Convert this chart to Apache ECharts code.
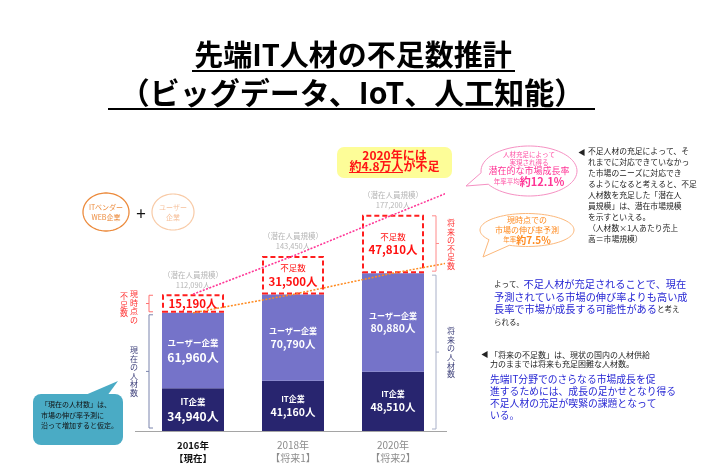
<!DOCTYPE html>
<html><head><meta charset="utf-8">
<script src="https://cdn.jsdelivr.net/npm/echarts@6/dist/echarts.min.js"></script>
<style>html,body{margin:0;padding:0;background:#fff}#c{width:703px;height:471px}</style>
</head><body><div id="c"></div>
<script>
// ---- data ----
const years = ['2016年', '2018年', '2020年'];
const yearTags = ['【現在】', '【将来1】', '【将来2】'];
const itCompanies = [34940, 41160, 48510];
const userCompanies = [61960, 70790, 80880];
const shortage = [15190, 31500, 47810];
const potentialScale = [112090, 143450, 177200];
// growth trend lines (12.1% / 7.5%), extended past 2020 toward the callouts
const trendX = [0, 1, 2, 2.9];
const potentialTrend = [112090, 143450, 177200, 207000];
const currentTrend = [96900, 111950, 129390, 143000];

const F = '"Noto Sans CJK JP","Noto Sans CJK SC",sans-serif';
const fmt = v => v.toLocaleString('en-US');
const currentTotal = itCompanies.map((v, i) => v + userCompanies[i]);

const chart = echarts.init(document.getElementById('c'));
const W = '#ffffff';
const NB = { textBorderWidth: 0, textBorderColor: 'transparent', textShadowBlur: 0, textShadowColor: 'transparent', fontFamily: F };
const R = o => Object.assign({}, NB, o);
const whiteRich = {
  n0: R({ fontSize: 8.5, fontWeight: 'bold', color: W, lineHeight: 13 }),
  v0: R({ fontSize: 12, fontWeight: 'bold', color: W, lineHeight: 15 }),
  n: R({ fontSize: 8, fontWeight: 'bold', color: W, lineHeight: 12 }),
  v: R({ fontSize: 10.5, fontWeight: 'bold', color: W, lineHeight: 14 })
};
chart.setOption({
  animation: false,
  textStyle: { fontFamily: F },
  grid: { left: 143, width: 300, top: 187, height: 244 },
  xAxis: [{
    type: 'category', data: years,
    axisLine: { show: false },
    axisTick: { show: false },
    axisLabel: {
      margin: 8,
      formatter: (v, i) => i === 0 ? `{b|${v}}\n{b|${yearTags[i]}}` : `{g|${v}}\n{g|${yearTags[i]}}`,
      rich: {
        b: { fontSize: 9.5, fontWeight: 'bold', color: '#111', lineHeight: 13, fontFamily: F },
        g: { fontSize: 10, color: '#8c8c8c', lineHeight: 13, fontFamily: F }
      }
    }
  }, { type: 'value', min: -0.5, max: 2.5, show: false }],
  yAxis: { type: 'value', min: 0, max: 200000, show: false },
  series: [
    {
      type: 'bar', name: 'IT企業', stack: 's', data: itCompanies, barWidth: 62,
      itemStyle: { color: '#28256f' },
      label: Object.assign({
        show: true, position: 'inside',
        formatter: p => p.dataIndex === 0 ? `{n0|IT企業}\n{v0|${fmt(p.value)}人}` : `{n|IT企業}\n{v|${fmt(p.value)}人}`,
        rich: whiteRich
      }, NB)
    },
    {
      type: 'bar', name: 'ユーザー企業', stack: 's', data: userCompanies, barWidth: 62,
      itemStyle: { color: '#7573c9' },
      label: Object.assign({
        show: true, position: 'inside',
        formatter: p => p.dataIndex === 0 ? `{n0|ユーザー企業}\n{v0|${fmt(p.value)}人}` : `{n|ユーザー企業}\n{v|${fmt(p.value)}人}`,
        rich: whiteRich
      }, NB)
    },
    {
      type: 'bar', name: '不足数', stack: 's', data: shortage, barWidth: 62,
      itemStyle: { color: '#ffffff', borderColor: '#ff1f1f', borderWidth: 2, borderType: [5, 3] },
      label: Object.assign({
        show: true, position: 'inside',
        formatter: p => p.dataIndex === 0 ? `{v0|${fmt(p.value)}人}` : `{n|不足数}\n{v|${fmt(p.value)}人}`,
        rich: {
          v0: R({ fontSize: 11.5, fontWeight: 'bold', color: '#ff1010', lineHeight: 15 }),
          n: R({ fontSize: 8.5, color: '#ff1010', lineHeight: 12 }),
          v: R({ fontSize: 11.5, fontWeight: 'bold', color: '#ff1010', lineHeight: 15 })
        }
      }, NB)
    },
    {
      type: 'scatter', data: potentialScale, symbolSize: 1, silent: true,
      itemStyle: { color: 'rgba(0,0,0,0)' },
      label: Object.assign({
        show: true, position: 'top', distance: 4,
        formatter: p => `（潜在人員規模）\n${fmt(p.value)}人`,
        color: '#a3a3a3', fontSize: 7.5, lineHeight: 10
      }, NB)
    },
    {
      type: 'line', xAxisIndex: 1, data: trendX.map((x, i) => [x, potentialTrend[i]]),
      symbol: 'none', clip: false, silent: true, z: 5,
      lineStyle: { color: '#ff3596', width: 1.5, type: [2, 1.5] }
    },
    {
      type: 'line', xAxisIndex: 1, data: trendX.map((x, i) => [x, currentTrend[i]]),
      symbol: 'none', clip: false, silent: true, z: 5,
      lineStyle: { color: '#ff8a1f', width: 1.5, type: [2, 1.5] }
    }
  ]
});

// ---- annotations ----
function txt(x, y, text, o) {
  const s = Object.assign({ text: text, fontFamily: F, fill: '#222', fontSize: 8 }, o || {});
  s.align = s.textAlign = s.align || 'left';
  s.verticalAlign = s.textVerticalAlign = s.verticalAlign || 'top';
  return { type: 'text', x: x, y: y, z: 20, style: s };
}
function bubblePts(cx, cy, rx, ry, a1, a2, tip) {
  const pts = []; let ins = false;
  for (let i = 0; i < 90; i++) {
    const a = i / 90 * 360;
    if (tip && a >= a1 && a <= a2) { if (!ins) { pts.push(tip); ins = true; } continue; }
    const r = a * Math.PI / 180;
    pts.push([cx + rx * Math.cos(r), cy + ry * Math.sin(r)]);
  }
  return pts;
}
const px = (i, v) => chart.convertToPixel({ xAxisIndex: 0, yAxisIndex: 0 }, [i, v]);
function bracket(x, y1, y2, dir, color) {
  const ym = (y1 + y2) / 2;
  return [
    { type: 'polyline', z: 20, shape: { points: [[x + 4 * dir, y1], [x, y1], [x, y2], [x + 4 * dir, y2]] }, style: { stroke: color, lineWidth: 1, fill: null } },
    { type: 'line', z: 20, shape: { x1: x, y1: ym, x2: x - 3 * dir, y2: ym }, style: { stroke: color, lineWidth: 1 } }
  ];
}
const RED = '#ff3030', NAVY = '#3a3d78';

const g = [];
// title
g.push(txt(353, 55, '先端IT人材の不足数推計', { fontSize: 29, fontWeight: 'bold', fill: '#000', align: 'center', verticalAlign: 'middle' }));
g.push(txt(352, 93, '（ビッグデータ、IoT、人工知能）', { fontSize: 30, fontWeight: 'bold', fill: '#000', align: 'center', verticalAlign: 'middle' }));
g.push({ type: 'line', z: 20, shape: { x1: 192, y1: 71, x2: 515, y2: 71 }, style: { stroke: '#000', lineWidth: 2 } });
g.push({ type: 'line', z: 20, shape: { x1: 108, y1: 109, x2: 595, y2: 109 }, style: { stroke: '#000', lineWidth: 2 } });

// company circles
g.push({ type: 'polygon', z: 15, shape: { points: bubblePts(106, 212, 23, 19) }, style: { fill: '#fff', stroke: '#ec8b3d', lineWidth: 1.3 } });
g.push(txt(106, 212, 'ITベンダー\nWEB企業', { fontSize: 7, lineHeight: 10, fill: '#ec8b3d', align: 'center', verticalAlign: 'middle' }));
g.push(txt(141, 214, '+', { fontSize: 17, fill: '#111', align: 'center', verticalAlign: 'middle' }));
g.push({ type: 'polygon', z: 15, shape: { points: bubblePts(173, 212, 21, 18) }, style: { fill: '#fff', stroke: '#f8caa6', lineWidth: 1.2 } });
g.push(txt(173, 212, 'ユーザー\n企業', { fontSize: 7, lineHeight: 10, fill: '#f6c19c', align: 'center', verticalAlign: 'middle' }));

// yellow headline box
g.push({ type: 'rect', z: 15, shape: { x: 337, y: 147, width: 115, height: 31, r: 7 }, style: { fill: '#fdfd98' } });
g.push(txt(394.5, 161, '2020年には\n約4.8万人が不足', { fontSize: 12, fontWeight: 'bold', fill: '#ff1414', lineHeight: 11.5, align: 'center', verticalAlign: 'middle' }));
g.push({ type: 'line', z: 20, shape: { x1: 349, y1: 172.5, x2: 403, y2: 172.5 }, style: { stroke: '#ff1414', lineWidth: 1.2 } });

// pink bubble
g.push({ type: 'polygon', z: 15, shape: { points: bubblePts(529, 171, 48, 25, 150, 172, [466, 186]) }, style: { fill: '#fff', stroke: '#f590c2', lineWidth: 1 } });
g.push({
  type: 'text', x: 529, y: 169, z: 20, style: {
    text: '{a|人材充足によって}\n{a|実現され得る}\n{b|潜在的な市場成長率}\n{a|年率平均}{c|約12.1%}',
    align: 'center', textAlign: 'center', verticalAlign: 'middle', textVerticalAlign: 'middle', fontFamily: F,
    rich: {
      a: { fontSize: 6.5, lineHeight: 7.5, fill: '#ff4fa3', fontFamily: F },
      b: { fontSize: 9, lineHeight: 10, fill: '#ff3596', fontFamily: F },
      c: { fontSize: 11, lineHeight: 11, fill: '#ff3596', fontWeight: 'bold', fontFamily: F }
    }
  }
});
// orange bubble
g.push({ type: 'polygon', z: 15, shape: { points: bubblePts(527, 230, 47, 16.5, 115, 140, [483, 257]) }, style: { fill: '#fff', stroke: '#fbb77a', lineWidth: 1 } });
g.push({
  type: 'text', x: 527, y: 230, z: 20, style: {
    text: '{a|現時点での}\n{a|市場の伸び率予測}\n{s|年率}{c|約7.5%}',
    align: 'center', textAlign: 'center', verticalAlign: 'middle', textVerticalAlign: 'middle', fontFamily: F,
    rich: {
      a: { fontSize: 8, lineHeight: 10, fill: '#ff8a1f', fontFamily: F },
      s: { fontSize: 6.5, lineHeight: 10, fill: '#ff8a1f', fontFamily: F },
      c: { fontSize: 10, lineHeight: 10, fill: '#ff8a1f', fontWeight: 'bold', fontFamily: F }
    }
  }
});

// teal note
g.push({ type: 'polygon', z: 15, shape: { points: [[83, 396], [107, 396], [118, 381]] }, style: { fill: '#4aabc5' } });
g.push({ type: 'rect', z: 15, shape: { x: 33, y: 394, width: 90, height: 51, r: 8 }, style: { fill: '#4aabc5' } });
g.push(txt(41, 399.5, '「現在の人材数」は、\n市場の伸び率予測に\n沿って増加すると仮定。', { fontSize: 7, lineHeight: 10.5, fill: '#111' }));

// right text blocks
g.push(txt(578, 146.5, '◀', { fontSize: 7.5, fill: '#222', lineHeight: 11 }));
g.push(txt(588, 146, '不足人材の充足によって、そ\nれまでに対応できていなかっ\nた市場のニーズに対応でき\nるようになると考えると、不足\n人材数を充足した「潜在人\n員規模」は、潜在市場規模\nを示すといえる。\n（人材数×1人あたり売上\n高＝市場規模）', { fontSize: 7.8, lineHeight: 11, fill: '#222' }));
g.push({
  type: 'text', x: 494, y: 277.5, z: 20, style: {
    text: '{s|よって、}{b|不足人材が充足されることで、現在}\n{b|予測されている市場の伸び率よりも高い成}\n{b|長率で市場が成長する可能性がある}{s|と考え}\n{s|られる。}',
    align: 'left', textAlign: 'left', verticalAlign: 'top', textVerticalAlign: 'top', fontFamily: F,
    rich: {
      s: { fontSize: 7.5, lineHeight: 12.8, fill: '#222', fontFamily: F },
      b: { fontSize: 10.2, lineHeight: 12.8, fill: '#2727d4', fontFamily: F }
    }
  }
});
g.push(txt(481, 350.5, '◀', { fontSize: 7.5, fill: '#222' }));
g.push(txt(490, 350, '「将来の不足数」は、現状の国内の人材供給\n力のままでは将来も充足困難な人材数。', { fontSize: 8, lineHeight: 9.5, fill: '#222' }));
g.push(txt(490, 373, '先端IT分野でのさらなる市場成長を促\n進するためには、成長の足かせとなり得る\n不足人材の充足が喫緊の課題となって\nいる。', { fontSize: 9.8, lineHeight: 12, fill: '#2727d4' }));

// brackets and baseline from data positions
const barHalf = 31;
const x0 = px(0, 0)[0], x2 = px(2, 0)[0];
const yBase = px(0, 0)[1];
const y0s = px(0, potentialScale[0])[1], y0c = px(0, currentTotal[0])[1];
const y2s = px(2, potentialScale[2])[1], y2c = px(2, currentTotal[2])[1];
const lx = x0 - barHalf - 13, rx = x2 + barHalf + 12;
g.push({ type: 'line', z: 1, shape: { x1: lx - 14, y1: yBase + 0.5, x2: rx + 11, y2: yBase + 0.5 }, style: { stroke: '#a5a5a5', lineWidth: 1 } });
g.push(...bracket(lx, y0s + 1, y0c - 1, 1, '#ff7070'));
g.push(...bracket(lx, y0c + 2, yBase - 3, 1, '#7b84ad'));
g.push(...bracket(rx, y2s + 1, y2c - 2, -1, '#ff8a8a'));
g.push(...bracket(rx, y2c + 2, yBase - 2, -1, '#a9b0c8'));
const colText = (x, y, s, color) => ({
  type: 'group', x: x, y: y, z: 20,
  children: s.split('').map((ch, k) => ({
    type: 'text', x: 0, y: k * 8.6, z: 20,
    style: { text: ch, fontFamily: F, fontSize: 8, fill: color, align: 'center', textAlign: 'center', verticalAlign: 'top', textVerticalAlign: 'top' }
  }))
});
g.push(colText(lx - 15, y0s - 4, '現時点の', RED));
g.push(colText(lx - 25, y0s - 2, '不足数', RED));
g.push(colText(lx - 15, (y0c + yBase) / 2 - 26, '現在の人材数', NAVY));
g.push(colText(rx + 15, (y2s + y2c) / 2 - 25, '将来の不足数', RED));
g.push(colText(rx + 15, (y2c + yBase) / 2 - 25, '将来の人材数', NAVY));

chart.setOption({ graphic: g });
</script>
</body></html>
